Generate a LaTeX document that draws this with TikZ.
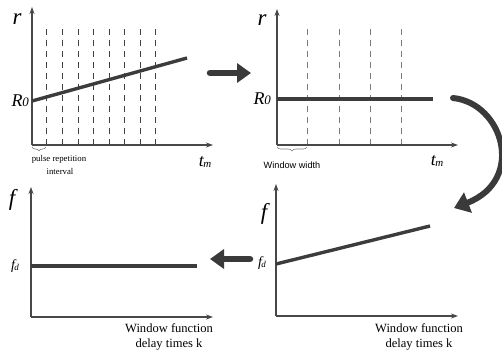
\documentclass[tikz,border=0pt]{standalone}
\usepackage{fontspec}
\setmainfont{Liberation Serif}
\newfontfamily\sansf{Liberation Sans}
\usetikzlibrary{arrows.meta,decorations.pathreplacing}
\definecolor{axisc}{HTML}{484848}
\definecolor{datac}{HTML}{3C3C3C}
\definecolor{dashc}{HTML}{404040}
\definecolor{dashl}{HTML}{7A7A7A}
\definecolor{bigc}{HTML}{3A3A3A}
\tikzset{
  axis/.style={draw=axisc, line width=1.1bp, -{Stealth[length=7bp,width=5bp]}},
  dataline/.style={draw=datac, line width=3.4bp},
  gridd/.style={draw=dashc, line width=0.8bp, dash pattern=on 6bp off 5bp},
  gridl/.style={draw=dashl, line width=0.9bp, dash pattern=on 6bp off 5bp},
  bigarrow/.style={draw=bigc, line width=6.5bp, line cap=round, -{Triangle[length=14bp,width=19bp]}},
  bracestyle/.style={draw=gray, line width=0.6bp, decorate, decoration={brace, mirror, amplitude=4bp}},
  biglab/.style={font=\fontsize{23}{23}\selectfont\itshape, inner sep=0pt},
  axlab/.style={font=\fontsize{18}{18}\selectfont\itshape, inner sep=0pt},
  smalllab/.style={font=\fontsize{14}{14}\selectfont\itshape, inner sep=0pt},
  note/.style={font=\fontsize{8.8}{10}\selectfont, inner sep=0pt},
  caption/.style={font=\fontsize{12.6}{15}\selectfont, inner sep=0pt, align=center}
}
\begin{document}
\begin{tikzpicture}[x=1bp,y=-1bp]
\useasboundingbox (0,0) rectangle (502,354);
% ---------- panel 1 (top left)
\coordinate (o1) at (32,145);
\coordinate (y1) at (32,7);
\coordinate (x1) at (213,145);
\foreach \xx in {46,62,78,93,109,124,140,155} {
  \draw[gridd] (\xx,29) -- (\xx,145);
}
\draw[axis] (o1) -- (y1);
\draw[axis] (o1) -- (x1);
\coordinate (l1a) at (32,101);
\coordinate (l1b) at (187,58);
\draw[dataline] (l1a) -- (l1b);
\node[biglab] (r1) at (17,19) {r};
\node[axlab, anchor=east] (R01) at (29,101) {R\kern-0.3bp{\fontsize{13}{13}\selectfont 0}};
\node[axlab] (t1) at (205,162) {t\kern-0.5bp\raisebox{-1bp}{\fontsize{11}{11}\selectfont m}};
\coordinate (b1a) at (32,147);
\coordinate (b1b) at (46,147);
\draw[bracestyle] (b1a) -- (b1b);
\node[note] (pr) at (59,159) {pulse repetition};
\node[note] (iv) at (60,171) {interval};
% ---------- panel 2 (top right)
\coordinate (o2) at (277,145);
\coordinate (y2) at (277,9);
\coordinate (x2) at (458,145);
\foreach \xx in {307,339,370,401} {
  \draw[gridl] (\xx,29) -- (\xx,145);
}
\draw[axis] (o2) -- (y2);
\draw[axis] (o2) -- (x2);
\coordinate (l2a) at (277,99);
\coordinate (l2b) at (433,99);
\draw[dataline] (l2a) -- (l2b);
\node[biglab] (r2) at (262,20) {r};
\node[axlab, anchor=east] (R02) at (271,99) {R\kern-0.3bp{\fontsize{13}{13}\selectfont 0}};
\node[axlab] (t2) at (437,161) {t\kern-0.5bp\raisebox{-1bp}{\fontsize{11}{11}\selectfont m}};
\coordinate (b2a) at (277,147);
\coordinate (b2b) at (307,147);
\draw[bracestyle] (b2a) -- (b2b);
\node[note, font=\sansf\fontsize{9.2}{10}\selectfont] (ww) at (292,165) {Window width};
% ---------- panel 3 (bottom right)
\coordinate (o3) at (276,316);
\coordinate (y3) at (276,184);
\coordinate (x3) at (458,316);
\draw[axis] (o3) -- (y3);
\draw[axis] (o3) -- (x3);
\coordinate (l3a) at (276,264);
\coordinate (l3b) at (430,226);
\draw[dataline] (l3a) -- (l3b);
\node[biglab] (f3) at (264,214) {f};
\node[smalllab] (fd3) at (262,263) {f\kern-0.5bp\raisebox{-1bp}{\fontsize{9}{9}\selectfont d}};
\node[caption] (c3) at (419,337) {Window function\\delay times k};
% ---------- panel 4 (bottom left)
\coordinate (o4) at (31,317);
\coordinate (y4) at (31,187);
\coordinate (x4) at (213,317);
\draw[axis] (o4) -- (y4);
\draw[axis] (o4) -- (x4);
\coordinate (l4a) at (31,266);
\coordinate (l4b) at (197,266);
\draw[dataline] (l4a) -- (l4b);
\node[biglab] (f4) at (12,200) {f};
\node[smalllab] (fd4) at (15,266) {f\kern-0.5bp\raisebox{-1bp}{\fontsize{9}{9}\selectfont d}};
\node[caption] (c4) at (169,337) {Window function\\delay times k};
% ---------- transition arrows
\coordinate (a1s) at (210,73);
\coordinate (a1e) at (251,73);
\draw[bigarrow] (a1s) -- (a1e);
\coordinate (a2s) at (453,98);
\coordinate (a2e) at (454,208);
\draw[bigarrow, line width=6bp, -{Triangle[length=15bp,width=21bp]}] (a2s) .. controls (503,103) and (526,180) .. (a2e);
\coordinate (a3s) at (250,259);
\coordinate (a3e) at (210,259);
\draw[bigarrow] (a3s) -- (a3e);
\end{tikzpicture}
\end{document}
